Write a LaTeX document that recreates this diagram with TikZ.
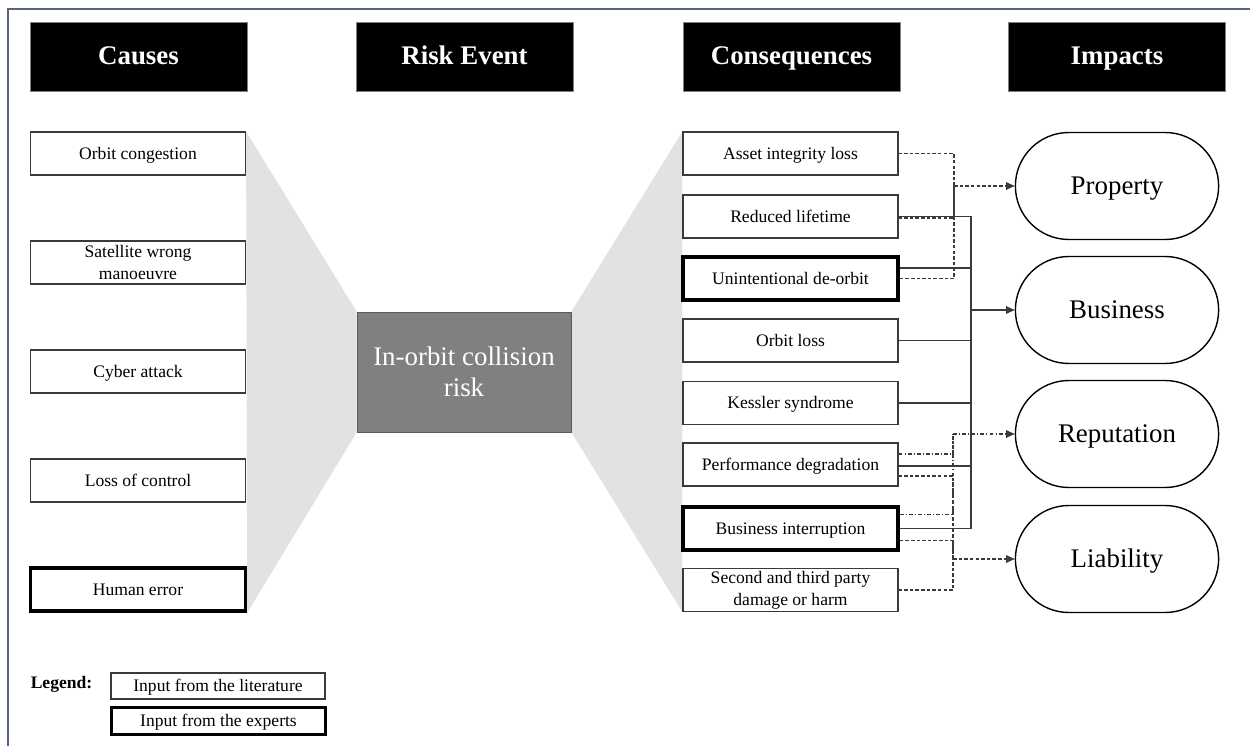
\documentclass[tikz,border=0pt]{standalone}
\usepackage{fontspec}
\setmainfont{Liberation Serif}
\usetikzlibrary{arrows.meta, positioning, shapes.misc, backgrounds}
\definecolor{frameBlue}{HTML}{56647F}
\definecolor{bowGray}{HTML}{E2E2E2}
\definecolor{eventGray}{HTML}{808080}
\definecolor{eventEdge}{HTML}{5A5A5A}
\definecolor{lineDark}{HTML}{3A3A3A}
\tikzset{
  headBox/.style={rectangle, draw=gray, fill=black, text=white,
                  font=\fontsize{15.3}{18}\selectfont\bfseries,
                  text height=10pt, text depth=0.5pt,
                  minimum width=4.34cm, minimum height=1.38cm, inner sep=0pt},
  boxLit/.style={rectangle, draw=lineDark, line width=0.7pt, fill=white,
                 align=center, font=\fontsize{10}{12.5}\selectfont,
                 text height=6.8pt, text depth=0pt,
                 minimum width=4.3cm, minimum height=0.86cm, inner sep=1pt},
  boxExp/.style={boxLit, draw=black, line width=2pt},
  twoLine/.style={text height={}, text depth={}},
  legLit/.style={boxLit, minimum width=4.28cm, minimum height=0.52cm},
  legExp/.style={boxExp, minimum width=4.28cm, minimum height=0.54cm},
  eventBox/.style={rectangle, draw=eventEdge, fill=eventGray, text=white,
                   align=center, font=\fontsize{15.3}{17.6}\selectfont,
                   minimum width=4.28cm, minimum height=2.4cm},
  impactBox/.style={rounded rectangle, draw=black, line width=0.8pt,
                    font=\fontsize{15.3}{18}\selectfont,
                    text height=10pt, text depth=0.5pt,
                    minimum width=4.3cm, minimum height=2.14cm},
  lineS/.style={lineDark, line width=0.6pt},
  lineD/.style={lineDark, line width=0.6pt, dash pattern=on 2pt off 1.2pt},
  lineDD/.style={lineDark, line width=0.6pt,
                 dash pattern=on 2.2pt off 1.2pt on 0.6pt off 1.2pt},
  arrowS/.style={lineS, -{Triangle[length=1.7mm, width=1.5mm]}},
  arrowD/.style={lineD, -{Triangle[length=1.7mm, width=1.5mm]}},
  arrowDD/.style={lineDD, -{Triangle[length=1.7mm, width=1.5mm]}},
}
\begin{document}
\begin{tikzpicture}[x=0.02cm, y=-0.02cm]
  \useasboundingbox (0,0) rectangle (1250,746);
  \draw[frameBlue, line width=0.8pt] (8,746) -- (8,9) -- (1250,9);

  \node[headBox] (hcause) at (138.5,56.5) {Causes};
  \node[headBox] (hevent) at (464.5,56.5) {Risk Event};
  \node[headBox] (hcons)  at (791.5,56.5) {Consequences};
  \node[headBox] (himp)   at (1117,56.5)  {Impacts};

  \node[boxLit] (cong)  at (138,153.5) {Orbit congestion};
  \node[boxLit, twoLine] (manv) at (138,262.5) {Satellite wrong\\manoeuvre};
  \node[boxLit] (cyber) at (138,371.5) {Cyber attack};
  \node[boxLit] (ctrl)  at (138,480.5) {Loss of control};
  \node[boxExp] (human) at (138,589.5) {Human error};

  \node[eventBox] (event) at (464,372) {In-orbit collision\\risk};

  \node[boxLit] (asset)   at (790.5,153.5) {Asset integrity loss};
  \node[boxLit] (life)    at (790.5,216.5) {Reduced lifetime};
  \node[boxExp] (deorbit) at (790.5,278.5) {Unintentional de-orbit};
  \node[boxLit] (oloss)   at (790.5,340.5) {Orbit loss};
  \node[boxLit] (kess)    at (790.5,403)   {Kessler syndrome};
  \node[boxLit] (perf)    at (790.5,464.5) {Performance degradation};
  \node[boxExp] (bint)    at (790.5,528.5) {Business interruption};
  \node[boxLit, twoLine] (harm) at (790.5,590) {Second and third party\\damage or harm};

  \node[impactBox] (prop) at (1117,186) {Property};
  \node[impactBox] (busi) at (1117,310) {Business};
  \node[impactBox] (repu) at (1117,434) {Reputation};
  \node[impactBox] (liab) at (1117,559) {Liability};

  \begin{scope}[on background layer]
    \fill[bowGray] (cong.north east) -- (event.north west)
      -- (event.south west) -- (human.south east) -- cycle;
    \fill[bowGray] (asset.north west) -- (event.north east)
      -- (event.south east) -- (harm.south west) -- cycle;
  \end{scope}

  \coordinate (busP) at (954,186);
  \coordinate (busB) at (971,310);
  \coordinate (busR) at (953,434);
  \coordinate (busL) at (953,559);

  \draw[lineD] (asset.east) -| (busP);
  \draw[lineD] ([yshift=-0.03cm]life.east) -| (busP);
  \draw[lineD] (deorbit.east) -| (busP);
  \draw[arrowD] (busP) -- (prop.west);

  \draw[lineS] (life.east) -| (busB);
  \draw[lineS] ([yshift=0.21cm]deorbit.east) -| (busB);
  \draw[lineS] (oloss.east) -| (busB);
  \draw[lineS] (kess.east) -| (busB);
  \draw[lineS] ([yshift=-0.03cm]perf.east) -| (busB);
  \draw[lineS] (bint.east) -| (busB);
  \draw[arrowS] (busB) -- (busi.west);

  \draw[lineDD] ([yshift=0.21cm]perf.east) -| (busR);
  \draw[lineDD] ([yshift=0.28cm]bint.east) -| (busR);
  \draw[arrowDD] (busR) -- (repu.west);

  \draw[lineD] ([yshift=-0.23cm]perf.east) -| (busL);
  \draw[lineD] ([yshift=-0.24cm]bint.east) -| (busL);
  \draw[lineD] (harm.east) -| (busL);
  \draw[arrowD] (busL) -- (liab.west);

  \node[font=\fontsize{10}{12}\selectfont\bfseries] (legend) at (61.5,684) {Legend:};
  \node[legLit] (leglit) at (218,686) {Input from the literature};
  \node[legExp] (legexp) at (218.5,721) {Input from the experts};
\end{tikzpicture}
\end{document}
